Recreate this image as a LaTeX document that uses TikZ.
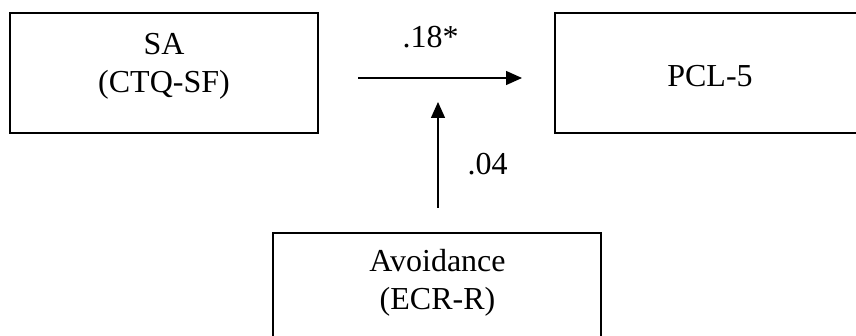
\documentclass[tikz,border=0pt]{standalone}
\usepackage{fontspec}
\setmainfont{Liberation Serif}
\usetikzlibrary{arrows.meta}
\tikzset{
  box/.style={draw=black, line width=2pt, rectangle, inner sep=0pt},
  lbl/.style={inner sep=0pt, align=center, font=\fontsize{32}{38}\selectfont},
  arr/.style={line width=1.4pt, -{Triangle[length=16pt,width=14pt]}}
}
\begin{document}
\begin{tikzpicture}[x=1pt,y=-1pt]
\useasboundingbox (0,0) rectangle (856,336);
\clip (0,0) rectangle (856,336);
\node[box, minimum width=308pt, minimum height=120pt] (sa) at (164,73) {};
\node[box, minimum width=310pt, minimum height=120pt] (pcl) at (710,73) {};
\node[box, minimum width=328pt, minimum height=120pt] (avo) at (437,293) {};
\node[lbl, anchor=base] (saT) at (164,93) {SA\\(CTQ-SF)};
\node[lbl, anchor=base] (pclT) at (710,87) {PCL-5};
\node[lbl, anchor=base] (avoT) at (437.5,310) {Avoidance\\(ECR-R)};
\coordinate (h1) at (358,78);
\coordinate (h2) at (522,78);
\coordinate (v1) at (438,208);
\coordinate (v2) at (438,102);
\draw[arr] (h1) -- (h2);
\draw[arr] (v1) -- (v2);
\node[lbl, anchor=base] (b1) at (430.5,48) {.18*};
\node[lbl, anchor=base] (b2) at (487.5,175) {.04};
\end{tikzpicture}
\end{document}
